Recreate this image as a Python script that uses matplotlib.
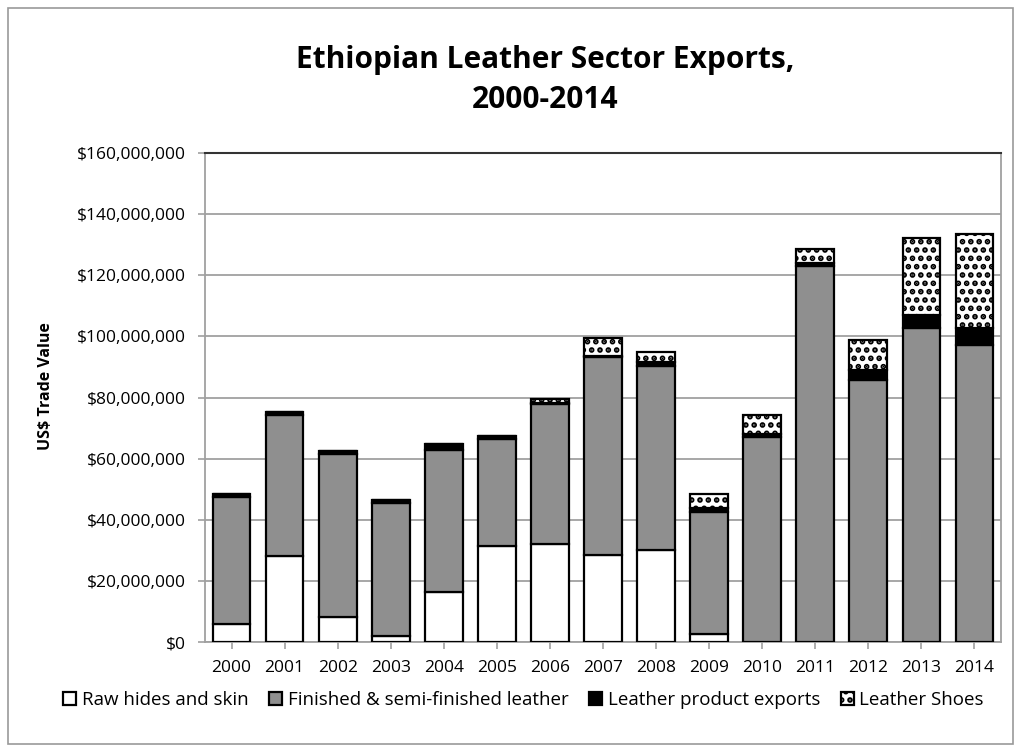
import numpy as np
import matplotlib
matplotlib.use("Agg")
import matplotlib.pyplot as plt
from matplotlib.ticker import FuncFormatter
from matplotlib.patches import Rectangle

years = ["2000", "2001", "2002", "2003", "2004", "2005", "2006", "2007",
         "2008", "2009", "2010", "2011", "2012", "2013", "2014"]

# values in millions of US$
raw_hides = [6.0, 28.1, 8.2, 1.9, 16.5, 31.4, 32.0, 28.6, 30.1, 2.7, 0, 0, 0, 0, 0]
finished = [41.5, 46.2, 53.3, 43.5, 46.3, 35.0, 45.8, 64.6, 60.3, 39.9, 67.2, 123.0, 85.6, 102.9, 97.3]
products = [0.9, 0.9, 1.0, 1.0, 1.9, 1.1, 0.4, 0.4, 1.1, 1.1, 0.9, 1.0, 3.3, 4.0, 5.6]
shoes = [0, 0, 0, 0, 0, 0, 1.2, 6.0, 3.4, 4.7, 6.2, 4.7, 10.0, 25.2, 30.7]

plt.rcParams['font.family'] = ['Open Sans', 'DejaVu Sans']
plt.rcParams['hatch.linewidth'] = 2.8

fig = plt.figure(figsize=(10.21, 7.53), dpi=100)
ax = fig.add_axes([205 / 1021, 1 - 642 / 753, 796 / 1021, 489 / 753])

x = np.arange(len(years))
w = 0.71
raw = np.array(raw_hides) * 1e6
fin = np.array(finished) * 1e6
prod = np.array(products) * 1e6
sh = np.array(shoes) * 1e6

kw = dict(width=w, edgecolor='black', linewidth=1.6, zorder=3)
ax.bar(x, raw, color='white', label='Raw hides and skin', **kw)
ax.bar(x, fin, bottom=raw, color='#8f8f8f', label='Finished & semi-finished leather', **kw)
ax.bar(x, prod, bottom=raw + fin, color='black', label='Leather product exports', **kw)
ax.bar(x, sh, bottom=raw + fin + prod, color='white', hatch='..',
       label='Leather Shoes', **kw)

ax.set_xlim(-0.5, len(years) - 0.5)
ax.set_ylim(0, 160e6)
ax.set_yticks(np.arange(0, 160e6 + 1, 20e6))
ax.yaxis.set_major_formatter(FuncFormatter(lambda v, p: "${:,.0f}".format(v)))
ax.set_xticks(x)
ax.set_xticklabels(years)
ax.grid(axis='y', color='#a0a0a0', linewidth=1.3, zorder=0)
ax.set_axisbelow(True)
ax.tick_params(axis='both', labelsize=12.5, color='#a0a0a0', length=5, width=1.2)
ax.tick_params(axis='y', pad=9)
ax.tick_params(axis='x', pad=8)
for s in ['left', 'bottom', 'right']:
    ax.spines[s].set_color('#a0a0a0')
    ax.spines[s].set_linewidth(1.3)
ax.spines['top'].set_color('#333333')
ax.spines['top'].set_linewidth(1.5)

ax.set_ylabel('US$ Trade Value', fontsize=11.5, fontweight='bold')
ax.yaxis.set_label_coords(-0.19, 0.523)

fig.text(545 / 1021, 1 - 60 / 753, 'Ethiopian Leather Sector Exports,', ha='center', va='center',
         fontsize=21.5, fontweight='bold')
fig.text(545 / 1021, 1 - 100 / 753, '2000-2014', ha='center', va='center',
         fontsize=21.5, fontweight='bold')

ax.legend(loc='center', bbox_to_anchor=(0.40, -0.119), ncol=4, frameon=False,
          fontsize=13.5, handlelength=0.7, handleheight=0.7, handletextpad=0.3,
          columnspacing=1.1)

fig.patches.append(Rectangle((0.008, 0.012), 0.984, 0.978, transform=fig.transFigure,
                             fill=False, edgecolor='#999999', linewidth=1.2))

fig.savefig('out.png', dpi=100)
